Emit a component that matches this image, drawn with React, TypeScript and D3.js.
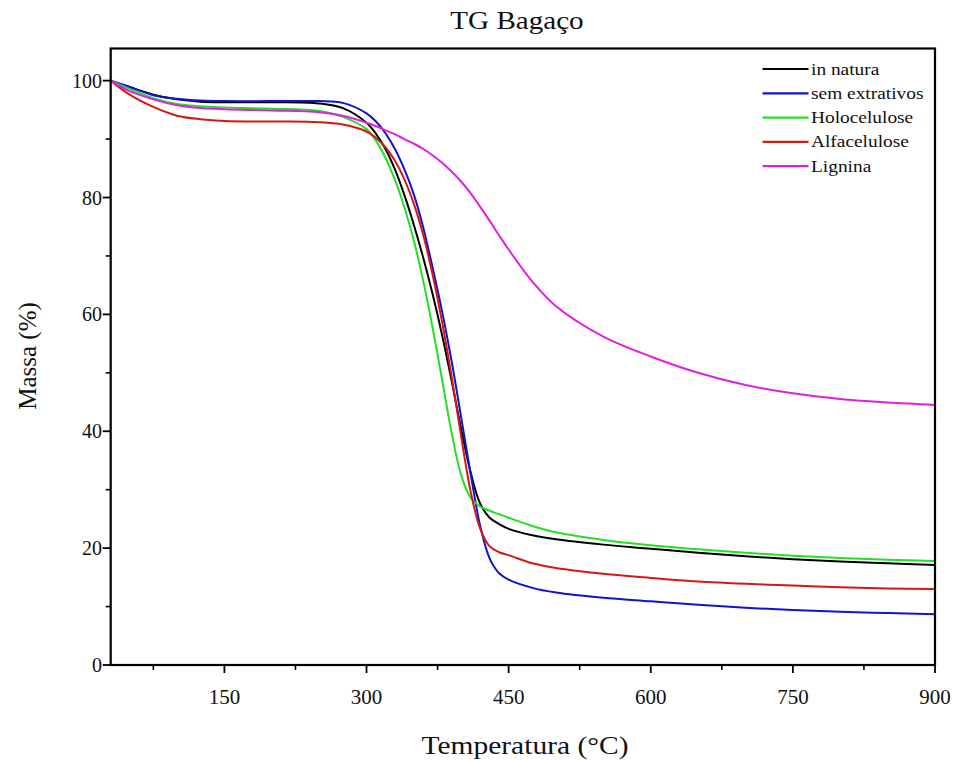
import React from "react";
import * as d3 from "d3";

// Temperature grid (°C) shared by all thermogravimetric curves
const temperatures = [30, 50, 75, 100, 125, 150, 200, 250, 275, 300, 310, 320, 330, 340, 350, 360, 370, 380, 390, 400, 410, 420, 430, 440, 450, 475, 500, 550, 600, 650, 700, 750, 800, 850, 900];

// Residual mass (%) for each sample
const inNatura = [100, 98.9, 97.6, 96.8, 96.4, 96.3, 96.3, 96.1, 95.3, 92.8, 90.9, 88.3, 84.8, 80.4, 75.3, 69.6, 63.3, 56.3, 48.5, 40.3, 32.9, 27.6, 25.2, 24.1, 23.3, 22.2, 21.5, 20.6, 19.9, 19.2, 18.6, 18.1, 17.7, 17.4, 17.1];
const semExtrativos = [100, 98.9, 97.5, 96.9, 96.6, 96.5, 96.5, 96.5, 96.2, 94.4, 93.0, 91.0, 88.3, 84.8, 80.5, 74.8, 67.8, 60.3, 51.8, 42.3, 32.6, 23.8, 18.2, 15.7, 14.6, 13.2, 12.4, 11.5, 10.9, 10.3, 9.8, 9.4, 9.1, 8.9, 8.7];
const holocelulose = [100, 98.6, 97.0, 96.0, 95.6, 95.4, 95.2, 94.8, 93.8, 91.7, 89.7, 86.8, 83.0, 78.3, 72.6, 65.6, 57.5, 48.6, 39.6, 32.4, 28.6, 27.1, 26.4, 25.8, 25.2, 23.8, 22.7, 21.4, 20.5, 19.8, 19.2, 18.7, 18.3, 18.0, 17.8];
const alfacelulose = [100, 97.6, 95.5, 94.0, 93.4, 93.1, 93.0, 92.9, 92.5, 91.3, 90.2, 88.6, 86.3, 83.1, 78.9, 73.5, 66.6, 58.5, 49.2, 39.0, 29.6, 23.3, 20.3, 19.3, 18.8, 17.4, 16.6, 15.6, 14.9, 14.3, 13.9, 13.6, 13.3, 13.1, 13.0];
const lignina = [100, 98.2, 96.8, 95.8, 95.3, 95.1, 94.9, 94.6, 94.0, 92.8, 92.2, 91.5, 90.8, 90.0, 89.2, 88.3, 87.2, 85.9, 84.4, 82.7, 80.7, 78.4, 76.0, 73.5, 71.1, 65.6, 61.4, 56.2, 52.8, 50.0, 47.9, 46.5, 45.5, 44.9, 44.5];

const seriesNames = ["in natura", "sem extrativos", "Holocelulose", "Alfacelulose", "Lignina"];
const seriesValues = [inNatura, semExtrativos, holocelulose, alfacelulose, lignina];
const seriesColors = ["#000000", "#1212cf", "#22e022", "#d41818", "#e020e0"];

const xMajorTicks = [150, 300, 450, 600, 750, 900];
const xMinorTicks = [75, 225, 375, 525, 675, 825];
const yMajorTicks = [0, 20, 40, 60, 80, 100];
const yMinorTicks = [10, 30, 50, 70, 90];

const W = 958;
const H = 760;
const FONT = "'Liberation Serif', 'Times New Roman', serif";

// Horizontal text drawn with a slight horizontal stretch
function WideText(props: {
  x: number;
  y: number;
  sx: number;
  size: number;
  anchor?: "start" | "middle" | "end";
  children: React.ReactNode;
}) {
  return (
    <text
      transform={`translate(${props.x},${props.y}) scale(${props.sx},1)`}
      textAnchor={props.anchor || "start"}
      fontSize={props.size}
      fill="#111"
    >
      {props.children}
    </text>
  );
}

export default function App() {
  const left = 110.7;
  const right = 935;
  const top = 48.5;
  const bottom = 665;

  const x = d3.scaleLinear().domain([30, 900]).range([left, right]);
  const y = d3.scaleLinear().domain([0, 105.5]).range([bottom, top]);

  const line = d3
    .line<[number, number]>()
    .x((d) => x(d[0]))
    .y((d) => y(d[1]))
    .curve(d3.curveCatmullRom.alpha(0.5));

  const legendX0 = 762.5;
  const legendX1 = 808.5;
  const legendY0 = 69;
  const legendStep = 24.3;

  return (
    <svg
      width={W}
      height={H}
      style={{ position: "absolute", left: 0, top: 0, background: "#fff" }}
      fontFamily={FONT}
    >
      <rect x={0} y={0} width={W} height={H} fill="#fff" />
      <defs>
        <clipPath id="plotClip">
          <rect x={left} y={top} width={right - left} height={bottom - top} />
        </clipPath>
      </defs>

      {/* title */}
      <WideText x={517} y={29} sx={1.12} size={26} anchor="middle">
        TG Bagaço
      </WideText>

      {/* curves */}
      <g clipPath="url(#plotClip)">
        {seriesValues.map((vals, i) => (
          <path
            key={seriesNames[i]}
            d={line(temperatures.map((t, j) => [t, vals[j]] as [number, number])) || ""}
            fill="none"
            stroke={seriesColors[i]}
            strokeWidth={2}
            strokeLinejoin="round"
          />
        ))}
      </g>

      {/* frame */}
      <rect x={left} y={top} width={right - left} height={bottom - top} fill="none" stroke="#000" strokeWidth={2.2} />

      {/* x ticks */}
      {xMajorTicks.map((t) => (
        <g key={"xM" + t}>
          <line x1={x(t)} x2={x(t)} y1={bottom} y2={bottom + 8} stroke="#000" strokeWidth={1.8} />
          <WideText x={x(t)} y={704} sx={1.05} size={20} anchor="middle">
            {t}
          </WideText>
        </g>
      ))}
      {xMinorTicks.map((t) => (
        <line key={"xm" + t} x1={x(t)} x2={x(t)} y1={bottom} y2={bottom + 5} stroke="#000" strokeWidth={1.6} />
      ))}

      {/* y ticks */}
      {yMajorTicks.map((t) => (
        <g key={"yM" + t}>
          <line x1={left - 8} x2={left} y1={y(t)} y2={y(t)} stroke="#000" strokeWidth={1.8} />
          <WideText x={102} y={y(t) + 7} sx={1.0} size={20} anchor="end">
            {t}
          </WideText>
        </g>
      ))}
      {yMinorTicks.map((t) => (
        <line key={"ym" + t} x1={left - 5} x2={left} y1={y(t)} y2={y(t)} stroke="#000" strokeWidth={1.6} />
      ))}

      {/* axis titles */}
      <WideText x={525} y={754} sx={1.18} size={25} anchor="middle">
        Temperatura (°C)
      </WideText>
      <text
        transform={`translate(36, 356) rotate(-90)`}
        textAnchor="middle"
        fontSize={25}
        fill="#111"
      >
        Massa (%)
      </text>

      {/* legend */}
      {seriesNames.map((name, i) => {
        const ly = legendY0 + i * legendStep;
        return (
          <g key={"lg" + name}>
            <line x1={legendX0} x2={legendX1} y1={ly} y2={ly} stroke={seriesColors[i]} strokeWidth={2.2} />
            <WideText x={811} y={ly + 5.5} sx={1.14} size={17}>
              {name}
            </WideText>
          </g>
        );
      })}
    </svg>
  );
}
